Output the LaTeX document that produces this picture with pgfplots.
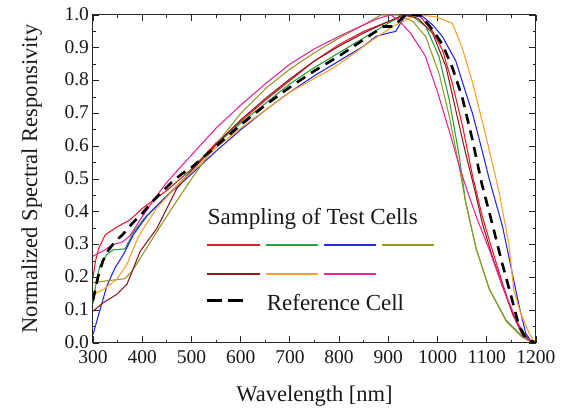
\documentclass[border=0pt]{standalone}
\usepackage{fontspec}
\setmainfont{Liberation Serif}
\usepackage{pgfplots}
\pgfplotsset{compat=1.18}

\definecolor{cred}{RGB}{228,32,44}
\definecolor{cgreen}{RGB}{40,160,60}
\definecolor{cblue}{RGB}{40,40,235}
\definecolor{colive}{RGB}{150,150,40}
\definecolor{cbrown}{RGB}{140,30,35}
\definecolor{corange}{RGB}{250,160,40}
\definecolor{cmagenta}{RGB}{232,40,150}

\begin{document}
\begin{tikzpicture}
% page = 566 x 412, axis box from (93,15) to (536,343) in pixels
\useasboundingbox (-93pt,-69pt) rectangle (473pt,343pt);
\begin{axis}[
  scale only axis,
  width=443pt, height=328pt,
  xmin=300, xmax=1200, ymin=0, ymax=1,
  xtick={300,400,...,1200},
  ytick={0,0.1,...,1.0},
  minor x tick num=1, minor y tick num=1,
  tick align=inside,
  major tick length=6.5pt, minor tick length=3.2pt,
  every tick/.style={black!85, line width=0.8pt},
  axis line style={black!85, line width=1pt},
  tick label style={font=\fontsize{19.5}{22}\selectfont, text=black!90},
  xticklabel={\pgfmathprintnumber[assume math mode=true,1000 sep={}]{\tick}},
  yticklabel={\pgfmathprintnumber[assume math mode=true,fixed,fixed zerofill,precision=1]{\tick}},
  xticklabel style={yshift=-4.5pt},
  yticklabel style={xshift=-0.5pt, yshift=1pt},
  xlabel={Wavelength [nm]},
  ylabel={Normalized Spectral Responsivity},
  label style={font=\fontsize{22.5}{26}\selectfont, text=black!90},
  xlabel style={at={(axis description cs:0.5,-0.177)}, anchor=base},
  ylabel style={at={(axis description cs:-0.126,0.5)}, anchor=base},
  every axis plot/.append style={line width=1.1pt},
]
% red
\addplot[cred] coordinates {
(300,0.20)(305,0.25)(312,0.29)(325,0.33)(350,0.355)(375,0.375)(400,0.41)
(450,0.465)(500,0.53)(550,0.61)(600,0.675)(650,0.74)(700,0.80)(750,0.86)
(800,0.91)(850,0.95)(900,0.98)(940,1.0)(965,0.995)(990,0.95)(1010,0.893)
(1030,0.792)(1051,0.66)(1071,0.51)(1091,0.385)(1111,0.284)(1132,0.182)
(1152,0.09)(1172,0.024)(1190,0.003)(1200,0)};
% green
\addplot[cgreen] coordinates {
(300,0.12)(307,0.19)(314,0.235)(328,0.27)(341,0.284)(365,0.287)(382,0.337)
(403,0.378)(444,0.44)(484,0.50)(520,0.56)(550,0.605)(600,0.67)(650,0.73)
(700,0.79)(750,0.84)(800,0.885)(850,0.93)(900,0.975)(930,1.0)(950,0.995)
(976,0.965)(1003,0.873)(1024,0.74)(1044,0.57)(1057,0.43)(1078,0.29)
(1105,0.165)(1139,0.07)(1172,0.02)(1190,0.004)(1200,0)};
% blue
\addplot[cblue] coordinates {
(300,0.026)(314,0.10)(328,0.173)(345,0.23)(362,0.27)(382,0.33)(410,0.388)
(444,0.44)(478,0.485)(500,0.515)(550,0.585)(600,0.65)(650,0.71)(700,0.765)
(750,0.815)(800,0.86)(850,0.905)(875,0.935)(900,0.945)(915,0.95)(935,1.0)
(970,0.995)(990,0.97)(1010,0.934)(1037,0.86)(1057,0.765)(1071,0.70)
(1084,0.625)(1105,0.50)(1132,0.355)(1149,0.233)(1166,0.111)(1179,0.03)
(1190,0.005)(1200,0)};
% olive
\addplot[colive] coordinates {
(300,0.184)(330,0.19)(365,0.196)(380,0.22)(430,0.34)(460,0.41)(500,0.50)
(550,0.605)(600,0.70)(650,0.775)(700,0.835)(750,0.885)(800,0.93)(850,0.97)
(885,1.0)(920,1.0)(950,0.98)(976,0.934)(1003,0.822)(1024,0.69)(1044,0.537)
(1057,0.43)(1078,0.29)(1105,0.165)(1140,0.065)(1170,0.02)(1190,0.003)(1200,0)};
% brown
\addplot[cbrown] coordinates {
(300,0.097)(320,0.122)(348,0.148)(369,0.179)(396,0.28)(430,0.35)(470,0.47)
(500,0.525)(550,0.605)(600,0.68)(650,0.745)(700,0.805)(750,0.86)(800,0.905)
(850,0.945)(900,0.98)(930,1.0)(960,0.99)(990,0.944)(1017,0.843)(1037,0.71)
(1057,0.578)(1075,0.47)(1091,0.365)(1110,0.27)(1132,0.172)(1150,0.10)
(1166,0.05)(1185,0.01)(1200,0)};
% orange
\addplot[corange] coordinates {
(300,0.148)(321,0.163)(348,0.194)(369,0.24)(393,0.327)(430,0.413)(471,0.48)
(500,0.52)(550,0.595)(600,0.655)(650,0.71)(700,0.765)(730,0.79)(760,0.815)
(790,0.84)(821,0.873)(868,0.924)(909,0.965)(943,0.99)(960,1.0)(996,0.995)
(1030,0.975)(1050,0.9)(1071,0.795)(1100,0.62)(1125,0.46)(1145,0.30)
(1155,0.16)(1169,0.09)(1186,0.03)(1195,0.008)(1200,0)};
% magenta
\addplot[cmagenta] coordinates {
(300,0.265)(320,0.28)(340,0.30)(360,0.308)(375,0.327)(400,0.385)(430,0.45)
(450,0.49)(480,0.54)(550,0.655)(600,0.725)(650,0.79)(700,0.85)(750,0.897)
(800,0.935)(850,0.97)(880,0.99)(905,1.0)(920,0.985)(945,0.945)(975,0.875)
(1000,0.765)(1025,0.64)(1045,0.535)(1060,0.465)(1080,0.38)(1105,0.285)
(1130,0.18)(1160,0.07)(1180,0.015)(1200,0)};
% reference cell
\addplot[black, line width=2.6pt, dash pattern=on 10pt off 7pt] coordinates {
(300,0.13)(310,0.2)(320,0.25)(330,0.28)(345,0.31)(360,0.33)(380,0.365)
(400,0.395)(420,0.43)(440,0.46)(460,0.49)(480,0.515)(500,0.535)(550,0.6)
(600,0.665)(650,0.725)(700,0.78)(750,0.83)(800,0.875)(850,0.925)(880,0.955)
(890,0.965)(910,0.965)(935,1.0)(965,1.0)(990,0.955)(1010,0.91)(1030,0.84)
(1050,0.75)(1070,0.625)(1090,0.485)(1110,0.37)(1130,0.25)(1150,0.14)
(1165,0.055)(1180,0.012)(1200,0)};

% legend
\node[anchor=base west, inner sep=0pt, font=\fontsize{23}{26}\selectfont, text=black!90]
  at (axis cs:533,0.36) {Sampling of Test Cells};
\draw[cred, line width=1.1pt]     (axis cs:531.7,0.2988) -- (axis cs:640,0.2988);
\draw[cgreen, line width=1.1pt]   (axis cs:650.7,0.2988) -- (axis cs:756.7,0.2988);
\draw[cblue, line width=1.1pt]    (axis cs:768.3,0.2988) -- (axis cs:875,0.2988);
\draw[colive, line width=1.1pt]   (axis cs:886.5,0.2988) -- (axis cs:993.3,0.2988);
\draw[cbrown, line width=1.1pt]   (axis cs:531.7,0.2104) -- (axis cs:640,0.2104);
\draw[corange, line width=1.1pt]  (axis cs:650.7,0.2104) -- (axis cs:756.7,0.2104);
\draw[cmagenta, line width=1.1pt] (axis cs:768.3,0.2104) -- (axis cs:875,0.2104);
\draw[black, line width=2.6pt, dash pattern=on 15pt off 6pt]
  (axis cs:531,0.129) -- (axis cs:604,0.129);
\node[anchor=base west, inner sep=0pt, font=\fontsize{23}{26}\selectfont, text=black!90]
  at (axis cs:652.7,0.1006) {Reference Cell};
\end{axis}
\end{tikzpicture}
\end{document}
